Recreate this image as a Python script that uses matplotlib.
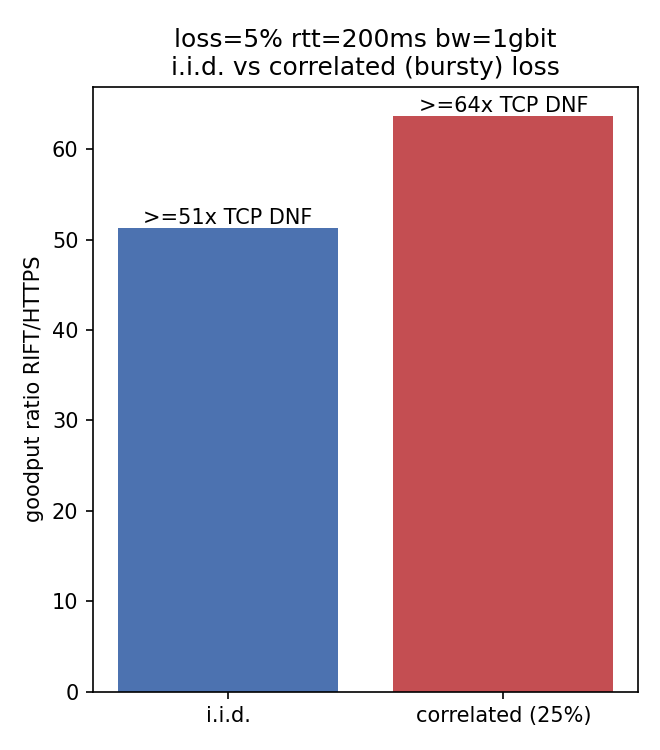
import matplotlib
matplotlib.use("Agg")
import matplotlib.pyplot as plt

categories = ["i.i.d.", "correlated (25%)"]
ratios = [51.3, 63.7]
labels = [">=51x TCP DNF", ">=64x TCP DNF"]
colors = ["#4C72B0", "#C44E52"]

fig, ax = plt.subplots(figsize=(4.4, 5), dpi=150)
bars = ax.bar(categories, ratios, color=colors)
for b, lab in zip(bars, labels):
    ax.annotate(lab, (b.get_x() + b.get_width() / 2, b.get_height()),
                ha="center", va="bottom", fontsize=10)
ax.set_ylabel("goodput ratio RIFT/HTTPS", fontsize=10)
ax.set_title("loss=5% rtt=200ms bw=1gbit\ni.i.d. vs correlated (bursty) loss", fontsize=12)
ax.tick_params(labelsize=10)
fig.subplots_adjust(left=0.141, right=0.967, top=0.884, bottom=0.078)
fig.savefig("out.png", dpi=150)
